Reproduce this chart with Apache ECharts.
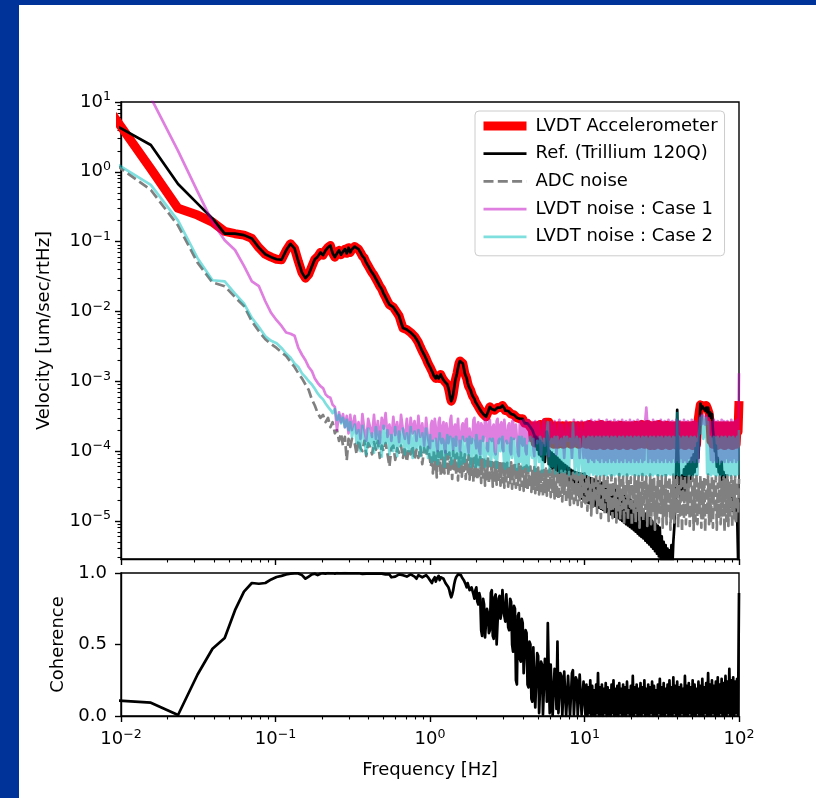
<!DOCTYPE html>
<html><head><meta charset="utf-8">
<script src="https://cdn.jsdelivr.net/npm/echarts@6/dist/echarts.min.js"></script>
<style>html,body{margin:0;padding:0;background:#fff}#c{width:816px;height:798px}</style>
</head><body><div id="c"></div>
<script>
// ---------- DATA ----------
const freq = [
  0.0078, 0.0156, 0.0234, 0.0313, 0.0391, 0.0469, 0.0547, 0.0625, 0.0703, 0.0781,
  0.0859, 0.0938, 0.1016, 0.1094, 0.1172, 0.125, 0.1328, 0.1406, 0.1484, 0.1563,
  0.1641, 0.1719, 0.1797, 0.1875, 0.1953, 0.2031, 0.2109, 0.2188, 0.2266, 0.2344,
  0.2422, 0.25, 0.2578, 0.2656, 0.2734, 0.2813, 0.2891, 0.2969, 0.3047, 0.3125,
  0.3255, 0.335, 0.3447, 0.3548, 0.3652, 0.3758, 0.3868, 0.3981, 0.4097, 0.4217,
  0.434, 0.4467, 0.4597, 0.4732, 0.487, 0.5012, 0.5158, 0.5309, 0.5464, 0.5623,
  0.5788, 0.5957, 0.6131, 0.631, 0.6494, 0.6683, 0.6879, 0.7079, 0.7286, 0.7499,
  0.7718, 0.7943, 0.8175, 0.8414, 0.866, 0.8913, 0.9173, 0.9441, 0.9716,
  1.0, 1.0145, 1.029, 1.044, 1.059, 1.074, 1.09, 1.106, 1.122, 1.138,
  1.155, 1.172, 1.189, 1.206, 1.223, 1.241, 1.259, 1.277, 1.296, 1.315,
  1.334, 1.353, 1.372, 1.392, 1.413, 1.433, 1.454, 1.475, 1.496, 1.518,
  1.54, 1.562, 1.585, 1.608, 1.631, 1.655, 1.679, 1.703, 1.728, 1.753,
  1.778, 1.804, 1.83, 1.857, 1.884, 1.911, 1.939, 1.967, 1.995, 2.024,
  2.054, 2.084, 2.113, 2.144, 2.175, 2.207, 2.239, 2.271, 2.304, 2.337,
  2.371, 2.405, 2.441, 2.476, 2.512, 2.548, 2.585, 2.622, 2.661, 2.7,
  2.738, 2.778, 2.818, 2.859, 2.901, 2.943, 2.985, 3.028, 3.073, 3.118,
  3.162, 3.208, 3.255, 3.302, 3.35, 3.399, 3.447, 3.497, 3.548, 3.599,
  3.652, 3.705, 3.758, 3.812, 3.868, 3.924, 3.981, 4.039, 4.097, 4.156,
  4.217, 4.278, 4.34, 4.403, 4.467, 4.532, 4.597, 4.664, 4.732, 4.801,
  4.87, 4.941, 5.012, 5.085, 5.158, 5.233, 5.309, 5.386, 5.464, 5.543,
  5.623, 5.705, 5.788, 5.872, 5.957, 6.043, 6.131, 6.22, 6.31, 6.401,
  6.494, 6.588, 6.683, 6.78, 6.879, 6.979, 7.079, 7.182, 7.286, 7.392,
  7.499, 7.608, 7.718, 7.83, 7.943, 8.058, 8.175, 8.294, 8.414, 8.536,
  8.66, 8.786, 8.913, 9.042, 9.173, 9.306, 9.441, 9.578, 9.716, 9.857,
  10, 10.14, 10.29, 10.44, 10.59, 10.74, 10.9, 11.06, 11.22, 11.38,
  11.55, 11.72, 11.89, 12.06, 12.23, 12.41, 12.59, 12.77, 12.96, 13.15,
  13.34, 13.53, 13.72, 13.92, 14.13, 14.33, 14.54, 14.75, 14.96, 15.18,
  15.4, 15.62, 15.85, 16.08, 16.31, 16.55, 16.79, 17.03, 17.28, 17.53,
  17.78, 18.04, 18.3, 18.57, 18.84, 19.11, 19.39, 19.67, 19.95, 20.24,
  20.54, 20.84, 21.13, 21.44, 21.75, 22.07, 22.39, 22.71, 23.04, 23.37,
  23.71, 24.05, 24.41, 24.76, 25.12, 25.48, 25.85, 26.22, 26.61, 27.0,
  27.38, 27.78, 28.18, 28.59, 29.01, 29.43, 29.85, 30.28, 30.73, 31.18,
  31.62, 32.08, 32.55, 33.02, 33.5, 33.99, 34.47, 34.97, 35.48, 35.99,
  36.52, 37.05, 37.58, 38.12, 38.68, 39.24, 39.81, 40.39, 40.97, 41.56,
  42.17, 42.78, 43.4, 44.03, 44.67, 45.32, 45.97, 46.64, 47.32, 48.01,
  48.7, 49.41, 50.12, 50.85, 51.58, 52.33, 53.09, 53.86, 54.64, 55.43,
  56.23, 57.05, 57.88, 58.72, 59.57, 60.43, 61.31, 62.2, 63.1, 64.01,
  64.94, 65.88, 66.83, 67.8, 68.79, 69.79, 70.79, 71.82, 72.86, 73.92,
  74.99, 76.08, 77.18, 78.3, 79.43, 80.58, 81.75, 82.94, 84.14, 85.36,
  86.6, 87.86, 89.13, 90.42, 91.73, 93.06, 94.41, 95.78, 97.16, 98.57,
  100
];

const lvdtAccelerometer = [
  9.7, 1.1, 0.30, 0.24, 0.19, 0.14, 0.13, 0.124, 0.111, 0.082,
  0.066, 0.060, 0.056, 0.055, 0.075, 0.093, 0.080, 0.052, 0.036, 0.030,
  0.034, 0.044, 0.056, 0.061, 0.070, 0.064, 0.075, 0.083, 0.088, 0.068,
  0.060, 0.068, 0.075, 0.065, 0.072, 0.078, 0.068, 0.082, 0.070, 0.078,
  0.085, 0.090, 0.078, 0.070, 0.062, 0.058, 0.050, 0.045, 0.040, 0.036,
  0.033, 0.031, 0.026, 0.023, 0.021, 0.018, 0.016, 0.014, 0.0125, 0.012,
  0.0115, 0.011, 0.0095, 0.0086, 0.0070, 0.0058, 0.0056, 0.0055, 0.0052, 0.0050,
  0.0047, 0.0044, 0.0040, 0.0036, 0.0031, 0.0027, 0.0024, 0.0021, 0.0018,
  1.6e-3, 1.5e-3, 1.4e-3, 1.3e-3, 1.2e-3, 1.15e-3, 1.1e-3, 1.2e-3, 1.2e-3, 1.1e-3,
  1.15e-3, 1.25e-3, 1.2e-3, 1.1e-3, 1.05e-3, 1.0e-3, 9.5e-4, 9.8e-4, 9.0e-4, 8.0e-4,
  7.0e-4, 5.8e-4, 5.2e-4, 5.6e-4, 6.5e-4, 8.0e-4, 1.0e-3, 1.15e-3, 1.3e-3, 1.55e-3,
  1.8e-3, 1.95e-3, 2.0e-3, 1.95e-3, 1.8e-3, 1.55e-3, 1.3e-3, 1.2e-3, 1.1e-3, 9.5e-4,
  8.5e-4, 8.0e-4, 7.5e-4, 6.8e-4, 6.2e-4, 5.9e-4, 5.6e-4, 5.1e-4, 4.8e-4, 4.6e-4,
  4.4e-4, 4.1e-4, 3.9e-4, 3.7e-4, 3.6e-4, 3.4e-4, 3.3e-4, 3.2e-4, 3.1e-4, 3.3e-4,
  3.6e-4, 4.0e-4, 4.3e-4, 4.1e-4, 4.0e-4, 3.9e-4, 3.8e-4, 3.85e-4, 3.9e-4, 4.0e-4,
  4.2e-4, 4.1e-4, 4.0e-4, 4.2e-4, 4.4e-4, 4.5e-4, 4.5e-4, 4.1e-4, 3.8e-4, 3.7e-4,
  3.6e-4, 3.75e-4, 3.9e-4, 3.6e-4, 3.4e-4, 3.3e-4, 3.2e-4, 3.3e-4, 3.4e-4, 3.2e-4,
  3.0e-4, 3.05e-4, 3.1e-4, 2.9e-4, 2.8e-4, 2.85e-4, 2.9e-4, 2.7e-4, 2.5e-4, 2.45e-4,
  2.4e-4, 2.5e-4, 2.6e-4, 2.4e-4, 2.2e-4, 2.1e-4, 2.0e-4, 1.5e-4, 2.3e-4, 1.3e-4,
  2.3e-4, 1.3e-4, 2.2e-4, 1.35e-4, 2.4e-4, 1.25e-4, 2.2e-4, 1.3e-4, 2.4e-4, 1.35e-4,
  2.6e-4, 2.7e-4, 2.7e-4, 2.6e-4, 1.4e-4, 2.3e-4, 1.3e-4, 2.2e-4, 1.25e-4, 2.3e-4,
  1.3e-4, 2.2e-4, 1.25e-4, 2.3e-4, 1.3e-4, 2.2e-4, 1.35e-4, 2.3e-4, 1.25e-4, 2.2e-4,
  1.3e-4, 2.3e-4, 1.35e-4, 2.2e-4, 1.3e-4, 2.3e-4, 1.25e-4, 2.2e-4, 1.3e-4, 2.3e-4,
  1.35e-4, 2.2e-4, 1.3e-4, 2.3e-4, 1.25e-4, 2.2e-4, 1.3e-4, 2.3e-4, 1.35e-4, 2.2e-4,
  1.3e-4, 2.3e-4, 1.25e-4, 2.2e-4, 1.35e-4, 2.4e-4, 1.3e-4, 2.2e-4, 1.2e-4, 2.3e-4,
  1.3e-4, 2.25e-4, 1.2e-4, 2.35e-4, 1.3e-4, 2.2e-4, 1.25e-4, 2.4e-4, 1.3e-4, 2.2e-4,
  1.2e-4, 2.3e-4, 1.3e-4, 2.2e-4, 1.25e-4, 2.35e-4, 1.3e-4, 2.2e-4, 1.2e-4, 2.3e-4,
  1.3e-4, 2.25e-4, 1.25e-4, 2.3e-4, 1.3e-4, 2.2e-4, 1.2e-4, 2.35e-4, 1.3e-4, 2.2e-4,
  1.25e-4, 2.3e-4, 1.3e-4, 2.2e-4, 1.2e-4, 2.3e-4, 1.3e-4, 2.25e-4, 1.25e-4, 2.3e-4,
  1.3e-4, 2.2e-4, 1.2e-4, 2.35e-4, 1.3e-4, 2.2e-4, 1.25e-4, 2.3e-4, 1.3e-4, 2.4e-4,
  1.3e-4, 2.3e-4, 1.25e-4, 2.2e-4, 1.35e-4, 2.4e-4, 1.3e-4, 2.2e-4, 1.2e-4, 2.3e-4,
  1.3e-4, 2.25e-4, 1.2e-4, 2.35e-4, 1.3e-4, 2.2e-4, 1.25e-4, 2.4e-4, 1.3e-4, 2.2e-4,
  1.2e-4, 2.3e-4, 1.3e-4, 2.2e-4, 1.25e-4, 2.35e-4, 1.3e-4, 2.2e-4, 1.2e-4, 2.3e-4,
  1.3e-4, 2.25e-4, 1.25e-4, 2.3e-4, 1.3e-4, 2.2e-4, 1.2e-4, 2.35e-4, 1.3e-4, 2.2e-4,
  1.25e-4, 2.3e-4, 1.3e-4, 2.2e-4, 1.2e-4, 2.3e-4, 1.3e-4, 2.25e-4, 1.25e-4, 2.3e-4,
  1.3e-4, 2.2e-4, 1.2e-4, 2.35e-4, 1.3e-4, 2.2e-4, 1.25e-4, 2.3e-4, 3.0e-4, 3.8e-4,
  4.6e-4, 4.2e-4, 4.5e-4, 4.3e-4, 4.6e-4, 4.2e-4, 4.5e-4, 4.2e-4, 4.0e-4, 3.5e-4,
  2.6e-4, 1.4e-4, 2.3e-4, 1.25e-4, 2.2e-4, 1.3e-4, 2.3e-4, 1.2e-4, 2.25e-4, 1.3e-4,
  2.3e-4, 1.25e-4, 2.2e-4, 1.3e-4, 2.3e-4, 1.2e-4, 2.25e-4, 1.3e-4, 2.3e-4, 1.25e-4,
  2.2e-4, 1.3e-4, 2.3e-4, 1.2e-4, 2.25e-4, 1.3e-4, 2.3e-4, 1.25e-4, 2.2e-4, 1.9e-4,
  5.2e-4
];

const refTrillium = [
  5.7, 2.42, 0.67, 0.35, 0.215, 0.13, 0.13, 0.124, 0.111, 0.082,
  0.066, 0.060, 0.056, 0.055, 0.075, 0.093, 0.080, 0.052, 0.036, 0.030,
  0.034, 0.044, 0.056, 0.061, 0.070, 0.064, 0.075, 0.083, 0.088, 0.068,
  0.060, 0.068, 0.075, 0.065, 0.072, 0.078, 0.068, 0.082, 0.070, 0.078,
  0.085, 0.090, 0.078, 0.070, 0.062, 0.058, 0.050, 0.045, 0.040, 0.036,
  0.033, 0.031, 0.026, 0.023, 0.021, 0.018, 0.016, 0.014, 0.0125, 0.012,
  0.0115, 0.011, 0.0095, 0.0086, 0.0070, 0.0058, 0.0056, 0.0055, 0.0052, 0.0050,
  0.0047, 0.0044, 0.0040, 0.0036, 0.0031, 0.0027, 0.0024, 0.0021, 0.0018,
  1.6e-3, 1.5e-3, 1.4e-3, 1.3e-3, 1.2e-3, 1.15e-3, 1.1e-3, 1.2e-3, 1.2e-3, 1.1e-3,
  1.15e-3, 1.25e-3, 1.2e-3, 1.1e-3, 1.05e-3, 1.0e-3, 9.5e-4, 9.8e-4, 9.0e-4, 8.0e-4,
  7.0e-4, 5.8e-4, 5.2e-4, 5.6e-4, 6.5e-4, 8.0e-4, 1.0e-3, 1.15e-3, 1.3e-3, 1.55e-3,
  1.8e-3, 1.95e-3, 2.0e-3, 1.95e-3, 1.8e-3, 1.55e-3, 1.3e-3, 1.2e-3, 1.1e-3, 9.5e-4,
  8.5e-4, 8.0e-4, 7.5e-4, 6.8e-4, 6.2e-4, 5.9e-4, 5.6e-4, 5.1e-4, 4.8e-4, 4.6e-4,
  4.4e-4, 4.1e-4, 3.9e-4, 3.7e-4, 3.6e-4, 3.4e-4, 3.3e-4, 3.2e-4, 3.1e-4, 3.3e-4,
  3.6e-4, 4.0e-4, 4.3e-4, 4.1e-4, 4.0e-4, 3.9e-4, 3.8e-4, 3.85e-4, 3.9e-4, 4.0e-4,
  4.2e-4, 4.1e-4, 4.0e-4, 4.2e-4, 4.4e-4, 4.5e-4, 4.5e-4, 4.1e-4, 3.8e-4, 3.7e-4,
  3.6e-4, 3.75e-4, 3.9e-4, 3.6e-4, 3.4e-4, 3.3e-4, 3.2e-4, 3.3e-4, 3.4e-4, 3.2e-4,
  3.0e-4, 3.05e-4, 3.1e-4, 2.9e-4, 2.8e-4, 2.85e-4, 2.9e-4, 2.7e-4, 2.5e-4, 2.45e-4,
  2.4e-4, 2.5e-4, 2.6e-4, 2.4e-4, 2.2e-4, 2.1e-4, 2.0e-4, 1.9e-4, 1.7e-4, 1.2e-4,
  1.6e-4, 1.05e-4, 1.5e-4, 9e-5, 1.4e-4, 8.5e-5, 1.3e-4, 7.5e-5, 1.2e-4, 7e-5,
  1.1e-4, 1.9e-4, 1.6e-4, 6.5e-5, 1.0e-4, 6e-5, 9.5e-5, 5.5e-5, 9e-5, 5.2e-5,
  8.5e-5, 4.8e-5, 8e-5, 4.5e-5, 7.5e-5, 4.2e-5, 7e-5, 4e-5, 6.6e-5, 3.8e-5,
  6.3e-5, 3.6e-5, 6e-5, 3.4e-5, 5.7e-5, 3.2e-5, 5.4e-5, 3.0e-5, 5.2e-5, 2.8e-5,
  5e-5, 2.6e-5, 4.9e-5, 2.4e-5, 4.8e-5, 2.2e-5, 4.7e-5, 2.1e-5, 4.7e-5, 2.0e-5,
  4.6e-5, 1.9e-5, 4.4e-5, 1.85e-5, 4.2e-5, 1.8e-5, 4.1e-5, 1.75e-5, 4.0e-5, 1.7e-5,
  3.9e-5, 1.65e-5, 3.8e-5, 1.6e-5, 3.7e-5, 1.55e-5, 3.6e-5, 1.5e-5, 3.5e-5, 1.45e-5,
  3.4e-5, 1.4e-5, 3.3e-5, 1.35e-5, 3.2e-5, 1.3e-5, 3.1e-5, 1.25e-5, 3.0e-5, 1.2e-5,
  2.9e-5, 1.15e-5, 2.8e-5, 1.15e-5, 2.7e-5, 1.1e-5, 2.6e-5, 1.05e-5, 2.5e-5, 1.0e-5,
  2.4e-5, 9.5e-6, 2.3e-5, 9e-6, 2.2e-5, 8.6e-6, 2.1e-5, 8.2e-6, 2.0e-5, 7.8e-6,
  1.9e-5, 7.4e-6, 1.8e-5, 7e-6, 1.7e-5, 6.6e-6, 1.6e-5, 6.2e-6, 1.5e-5, 5.9e-6,
  1.4e-5, 5.6e-6, 1.3e-5, 5.2e-6, 1.25e-5, 4.9e-6, 1.15e-5, 4.6e-6, 1.1e-5, 4.3e-6,
  1.0e-5, 4.0e-6, 9.5e-6, 3.7e-6, 9e-6, 3.4e-6, 8.5e-6, 3.1e-6, 8e-6, 2.8e-6,
  6e-6, 2.6e-6, 5e-6, 2.3e-6, 4.5e-6, 2.1e-6, 4.0e-6, 2.0e-6, 3.8e-6, 2.0e-6,
  4.5e-6, 2.2e-6, 5.0e-6, 8e-6, 1.5e-5, 6.0e-5, 3.9e-4, 1.0e-4, 3.8e-5, 2.5e-5,
  2.0e-5, 4.5e-5, 2.5e-5, 5.5e-5, 2.5e-5, 6.0e-5, 3.0e-5, 6.5e-5, 3.5e-5, 7.0e-5,
  4.0e-5, 8.0e-5, 4.5e-5, 9.0e-5, 5.0e-5, 1.1e-4, 6.0e-5, 1.3e-4, 8.0e-5, 2.0e-4,
  4.8e-4, 4.0e-4, 4.4e-4, 4.2e-4, 4.6e-4, 3.8e-4, 4.2e-4, 3.6e-4, 4.2e-4, 3.2e-4,
  3.6e-4, 3.0e-4, 3.4e-4, 2.0e-4, 1.5e-4, 1.0e-4, 1.2e-4, 6.0e-5, 8.0e-5, 5.0e-5,
  6.0e-5, 3.5e-5, 7.0e-5, 3.6e-5, 5.0e-5, 2.8e-5, 4.5e-5, 2.4e-5, 3.8e-5, 2.0e-5,
  3.0e-5, 1.6e-5, 2.6e-5, 1.4e-5, 2.2e-5, 1.2e-5, 1.8e-5, 1.0e-5, 1.4e-5, 3.0e-6,
  1.5e-6
];

const adcNoise = [
  1.65, 0.55, 0.17, 0.05, 0.026, 0.023, 0.016, 0.012, 0.0072, 0.0052,
  0.0040, 0.0034, 0.0030, 0.0026, 0.0023, 0.0019, 0.0016, 0.0013, 0.0011, 9e-4,
  7.5e-4, 5.5e-4, 4.5e-4, 3.5e-4, 3.0e-4, 3.3e-4, 2.6e-4, 3.0e-4, 2.2e-4, 2.6e-4,
  1.8e-4, 2.0e-4, 1.4e-4, 1.8e-4, 1.2e-4, 1.6e-4, 7.4e-5, 1.5e-4, 1.15e-4, 1.5e-4,
  1.3e-4, 9e-5, 1.45e-4, 1.1e-4, 1.0e-4, 1.4e-4, 8.5e-5, 1.3e-4, 1.15e-4, 9e-5,
  1.35e-4, 1.05e-4, 1.4e-4, 8e-5, 1.2e-4, 1.0e-4, 1.3e-4, 9e-5, 6e-5, 1.1e-4,
  1.2e-4, 7.5e-5, 1.1e-4, 9.5e-5, 1.2e-4, 8e-5, 1.15e-4, 7e-5, 1.1e-4, 9e-5,
  1.2e-4, 7.5e-5, 1.05e-4, 8e-5, 1.15e-4, 6.5e-5, 1.1e-4, 8.5e-5, 1.15e-4,
  1.1e-4, 6e-5, 9e-5, 4.8e-5, 1.05e-4, 5.5e-5, 8.5e-5, 4.2e-5, 1.0e-4, 6.2e-5,
  9.5e-5, 4.5e-5, 1.1e-4, 5e-5, 8e-5, 4.8e-5, 1.0e-4, 5.8e-5, 9e-5, 4.4e-5,
  9.5e-5, 5.2e-5, 8.5e-5, 4e-5, 1.0e-4, 5.5e-5, 8.8e-5, 4.6e-5, 9.2e-5, 3.8e-5,
  8.5e-5, 5e-5, 9.5e-5, 4.3e-5, 8e-5, 5.2e-5, 9e-5, 4e-5, 8.3e-5, 4.8e-5,
  8.8e-5, 3.9e-5, 7.8e-5, 4.6e-5, 8.5e-5, 3.6e-5, 8e-5, 4.4e-5, 8.6e-5, 3.8e-5,
  7.5e-5, 4.5e-5, 8.2e-5, 3.5e-5, 7.6e-5, 4.2e-5, 8e-5, 3.2e-5, 7.2e-5, 4e-5,
  7.8e-5, 3.4e-5, 7e-5, 4.1e-5, 7.5e-5, 3.1e-5, 6.8e-5, 3.8e-5, 7.4e-5, 3.3e-5,
  6.9e-5, 3.9e-5, 7.2e-5, 3.2e-5, 6.6e-5, 3.6e-5, 7e-5, 3e-5, 6.5e-5, 3.7e-5,
  6.8e-5, 3.1e-5, 6.4e-5, 3.5e-5, 6.9e-5, 2.9e-5, 6.2e-5, 3.4e-5, 6.6e-5, 3.0e-5,
  6.1e-5, 3.3e-5, 6.5e-5, 2.8e-5, 6.0e-5, 3.2e-5, 6.3e-5, 2.7e-5, 5.9e-5, 3.1e-5,
  6.2e-5, 2.7e-5, 5.8e-5, 3.0e-5, 6.0e-5, 2.6e-5, 5.6e-5, 2.9e-5, 5.9e-5, 2.5e-5,
  5.5e-5, 2.8e-5, 5.8e-5, 2.4e-5, 5.4e-5, 2.7e-5, 5.7e-5, 2.3e-5, 5.3e-5, 2.6e-5,
  5.6e-5, 2.3e-5, 5.2e-5, 2.5e-5, 5.5e-5, 2.2e-5, 5.1e-5, 2.4e-5, 5.4e-5, 2.1e-5,
  5.0e-5, 2.3e-5, 5.3e-5, 2.0e-5, 4.9e-5, 2.3e-5, 5.2e-5, 1.9e-5, 4.8e-5, 2.2e-5,
  5.1e-5, 1.8e-5, 4.8e-5, 2.2e-5, 5.0e-5, 1.7e-5, 4.7e-5, 2.1e-5, 4.9e-5, 1.8e-5,
  4.6e-5, 2.0e-5, 4.9e-5, 1.7e-5, 4.6e-5, 2.0e-5, 4.8e-5, 1.6e-5, 4.5e-5, 1.9e-5,
  4.8e-5, 1.8e-5, 3.9e-5, 1.4e-5, 4.6e-5, 2.0e-5, 3.6e-5, 1.2e-5, 4.4e-5, 1.6e-5,
  3.4e-5, 1.9e-5, 4.7e-5, 1.3e-5, 3.8e-5, 1.7e-5, 4.3e-5, 1.1e-5, 3.5e-5, 1.5e-5,
  4.6e-5, 1.2e-5, 3.7e-5, 1.8e-5, 4.2e-5, 1.0e-5, 3.3e-5, 1.4e-5, 4.5e-5, 1.1e-5,
  3.6e-5, 1.6e-5, 4.4e-5, 9.5e-6, 3.4e-5, 1.3e-5, 4.7e-5, 1.05e-5, 3.8e-5, 1.5e-5,
  4.3e-5, 9e-6, 3.5e-5, 1.3e-5, 4.6e-5, 1.0e-5, 3.7e-5, 1.6e-5, 4.2e-5, 8.5e-6,
  3.3e-5, 1.2e-5, 4.5e-5, 9.5e-6, 3.9e-5, 1.4e-5, 4.4e-5, 8e-6, 3.5e-5, 1.2e-5,
  4.7e-5, 1.0e-5, 3.6e-5, 1.5e-5, 4.3e-5, 8.5e-6, 3.4e-5, 1.2e-5, 4.6e-5, 9e-6,
  3.8e-5, 1.4e-5, 4.2e-5, 7.5e-6, 3.3e-5, 1.1e-5, 4.5e-5, 9.5e-6, 3.7e-5, 1.3e-5,
  4.4e-5, 8e-6, 3.5e-5, 1.2e-5, 4.7e-5, 9e-6, 3.6e-5, 1.4e-5, 4.3e-5, 7.5e-6,
  3.4e-5, 1.1e-5, 4.6e-5, 9.5e-6, 3.8e-5, 1.3e-5, 4.2e-5, 8e-6, 3.5e-5, 1.2e-5,
  4.5e-5, 7e-6, 3.7e-5, 1.1e-5, 4.4e-5, 9e-6, 3.3e-5, 1.3e-5, 4.6e-5, 8.5e-6,
  3.6e-5, 1.2e-5, 4.3e-5, 7.5e-6, 3.9e-5, 1.0e-5, 4.7e-5, 9e-6, 3.4e-5, 1.3e-5,
  4.5e-5, 8e-6, 3.6e-5, 1.1e-5, 4.2e-5, 7e-6, 3.8e-5, 1.2e-5, 4.6e-5, 9e-6,
  3.5e-5, 1.0e-5, 4.4e-5, 8e-6, 3.7e-5, 1.3e-5, 4.3e-5, 7.5e-6, 3.4e-5, 1.1e-5,
  4.6e-5, 9e-6, 3.6e-5, 1.2e-5, 4.2e-5, 7e-6, 3.9e-5, 1.0e-5, 4.5e-5, 8.5e-6,
  3.5e-5, 1.2e-5, 4.4e-5, 8e-6, 3.7e-5, 1.1e-5, 4.3e-5, 9e-6, 3.6e-5, 1.3e-5,
  4e-5
];

const lvdtNoiseCase1 = [
  250, 11.5, 2.0, 0.52, 0.19, 0.105, 0.076, 0.045, 0.027, 0.023,
  0.014, 0.0095, 0.0075, 0.0062, 0.005, 0.0048, 0.0045, 0.003, 0.0024, 0.002,
  0.0016, 0.0014, 0.0011, 9.5e-4, 8.5e-4, 8e-4, 6.5e-4, 6e-4, 5.8e-4, 4.6e-4,
  4.3e-4, 2.0e-4, 3.6e-4, 2.6e-4, 3.4e-4, 2.2e-4, 3.2e-4, 1.8e-4, 3.3e-4, 2.0e-4,
  3.2e-4, 1.8e-4, 2.6e-4, 1.5e-4, 3.4e-4, 2.0e-4, 1.4e-4, 2.9e-4, 2.2e-4, 1.6e-4,
  3.3e-4, 1.5e-4, 2.7e-4, 1.3e-4, 3.0e-4, 2.1e-4, 3.5e-4, 1.6e-4, 2.4e-4, 1.4e-4,
  3.1e-4, 1.7e-4, 2.6e-4, 1.35e-4, 3.3e-4, 2.0e-4, 1.5e-4, 2.9e-4, 1.3e-4, 3.0e-4,
  1.8e-4, 2.7e-4, 1.4e-4, 3.2e-4, 1.6e-4, 2.5e-4, 1.2e-4, 3.0e-4, 1.5e-4,
  1.1e-4, 2.4e-4, 2.7e-4, 1.4e-4, 1.6e-4, 2.9e-4, 2.2e-4, 1.2e-4, 1.0e-4, 2.6e-4,
  3.0e-4, 1.5e-4, 1.3e-4, 2.3e-4, 2.6e-4, 1.1e-4, 9.5e-5, 2.5e-4, 2.0e-4, 1.3e-4,
  1.5e-4, 2.8e-4, 3.2e-4, 1.6e-4, 1.05e-4, 2.2e-4, 2.4e-4, 1.2e-4, 1.8e-4, 2.9e-4,
  2.8e-4, 1.0e-4, 1.0e-4, 2.3e-4, 2.5e-4, 1.5e-4, 1.4e-4, 2.7e-4, 2.9e-4, 1.2e-4,
  9.5e-5, 2.1e-4, 2.2e-4, 1.3e-4, 1.6e-4, 2.8e-4, 3.0e-4, 1.4e-4, 1.1e-4, 2.4e-4,
  2.6e-4, 1.0e-4, 9e-5, 2.5e-4, 2.3e-4, 1.4e-4, 1.7e-4, 2.9e-4, 2.7e-4, 1.1e-4,
  1.0e-4, 2.5e-4, 2.8e-4, 1.5e-4, 1.4e-4, 2.2e-4, 2.4e-4, 1.0e-4, 9e-5, 2.7e-4,
  2.9e-4, 1.3e-4, 1.5e-4, 2.4e-4, 2.6e-4, 1.1e-4, 1.0e-4, 2.8e-4, 2.7e-4, 1.4e-4,
  1.3e-4, 2.3e-4, 2.5e-4, 1.0e-4, 9e-5, 2.6e-4, 2.8e-4, 1.5e-4, 1.6e-4, 2.4e-4,
  2.3e-4, 9.5e-5, 8.5e-5, 2.5e-4, 2.7e-4, 1.3e-4, 1.2e-4, 2.8e-4, 2.5e-4, 1.0e-4,
  9e-5, 2.6e-4, 2.8e-4, 1.4e-4, 1.4e-4, 2.3e-4, 2.6e-4, 1.1e-4, 8.5e-5, 2.7e-4,
  2.4e-4, 1.3e-4, 1.5e-4, 2.6e-4, 2.7e-4, 9e-5, 9e-5, 2.5e-4, 2.8e-4, 1.2e-4,
  1.2e-4, 2.4e-4, 2.6e-4, 8.5e-5, 8e-5, 2.6e-4, 2.3e-4, 1.3e-4, 1.4e-4, 2.7e-4,
  2.7e-4, 9e-5, 8.5e-5, 2.5e-4, 2.8e-4, 1.2e-4, 1.3e-4, 2.4e-4, 2.5e-4, 8e-5,
  8e-5, 2.7e-4, 2.7e-4, 1.4e-4, 1.5e-4, 2.5e-4, 2.5e-4, 8e-5, 7.5e-5, 2.8e-4,
  2.8e-4, 1.2e-4, 1.2e-4, 2.6e-4, 2.6e-4, 8e-5, 7.5e-5, 2.7e-4, 2.7e-4, 8e-5,
  7.5e-5, 2.6e-4, 8e-5, 2.7e-4, 7e-5, 2.5e-4, 8e-5, 2.8e-4, 7.5e-5, 2.6e-4,
  7e-5, 2.7e-4, 8e-5, 2.5e-4, 7.5e-5, 2.8e-4, 7e-5, 2.6e-4, 8e-5, 2.7e-4,
  7e-5, 2.5e-4, 7.5e-5, 2.8e-4, 7e-5, 2.6e-4, 8e-5, 2.7e-4, 7e-5, 2.5e-4,
  7.5e-5, 2.8e-4, 7e-5, 2.6e-4, 8e-5, 2.7e-4, 7e-5, 2.5e-4, 7.5e-5, 2.8e-4,
  7e-5, 2.6e-4, 8e-5, 2.7e-4, 7e-5, 2.5e-4, 7.5e-5, 2.8e-4, 7e-5, 2.6e-4,
  8e-5, 2.7e-4, 7e-5, 2.5e-4, 7.5e-5, 2.8e-4, 7e-5, 2.6e-4, 8e-5, 2.7e-4,
  7e-5, 2.5e-4, 7.5e-5, 2.8e-4, 4.2e-4, 2.6e-4, 7e-5, 2.7e-4, 8e-5, 2.5e-4,
  7e-5, 2.8e-4, 7.5e-5, 2.6e-4, 7e-5, 2.7e-4, 8e-5, 2.5e-4, 7e-5, 2.8e-4,
  7.5e-5, 2.6e-4, 7e-5, 2.7e-4, 8e-5, 2.5e-4, 7e-5, 2.8e-4, 7.5e-5, 2.6e-4,
  7e-5, 2.7e-4, 8e-5, 2.5e-4, 7e-5, 2.8e-4, 7.5e-5, 2.6e-4, 7e-5, 2.7e-4,
  8e-5, 2.5e-4, 7e-5, 2.8e-4, 7.5e-5, 2.6e-4, 7e-5, 2.7e-4, 8e-5, 2.5e-4,
  7e-5, 2.8e-4, 7.5e-5, 2.6e-4, 7e-5, 2.7e-4, 8e-5, 2.5e-4, 7e-5, 2.9e-4,
  3.2e-4, 2.4e-4, 3.3e-4, 2.5e-4, 3.1e-4, 2.4e-4, 3.2e-4, 2.5e-4, 3.0e-4, 2.6e-4,
  2.7e-4, 7.5e-5, 2.6e-4, 7e-5, 2.8e-4, 7.5e-5, 2.6e-4, 7e-5, 2.7e-4, 8e-5,
  2.5e-4, 7e-5, 2.8e-4, 7.5e-5, 2.7e-4, 7e-5, 2.6e-4, 8e-5, 2.7e-4, 7e-5,
  2.5e-4, 7.5e-5, 2.8e-4, 7e-5, 2.6e-4, 8e-5, 2.7e-4, 7e-5, 2.8e-4, 7.5e-5,
  1.3e-3
];

const lvdtNoiseCase2 = [
  1.66, 0.65, 0.20, 0.058, 0.028, 0.027, 0.018, 0.013, 0.0081, 0.006,
  0.0044, 0.0038, 0.0035, 0.003, 0.0025, 0.0022, 0.0018, 0.0016, 0.0013, 0.00115,
  0.001, 9e-4, 7.8e-4, 6.7e-4, 6e-4, 5.5e-4, 4.8e-4, 4.3e-4, 3.9e-4, 3.5e-4,
  4.0e-4, 2.8e-4, 3.3e-4, 2.5e-4, 3.0e-4, 2.2e-4, 2.8e-4, 2.0e-4, 2.6e-4, 1.6e-4,
  2.4e-4, 1.3e-4, 2.0e-4, 1.0e-4, 2.3e-4, 1.5e-4, 9e-5, 2.1e-4, 1.2e-4, 1.8e-4,
  9.5e-5, 2.2e-4, 1.1e-4, 1.9e-4, 8.3e-5, 2.3e-4, 1.3e-4, 2.0e-4, 9e-5, 1.7e-4,
  1.0e-4, 2.2e-4, 8.5e-5, 1.9e-4, 1.2e-4, 2.1e-4, 9e-5, 1.8e-4, 1.0e-4, 2.2e-4,
  8e-5, 1.9e-4, 1.1e-4, 2.0e-4, 8.5e-5, 1.8e-4, 9.5e-5, 2.1e-4, 8e-5,
  1.7e-4, 9e-5, 7e-5, 1.4e-4, 1.2e-4, 7.5e-5, 1.5e-4, 1.6e-4, 6.5e-5, 1.1e-4,
  1.8e-4, 8e-5, 9e-5, 1.5e-4, 1.4e-4, 6e-5, 6e-5, 1.3e-4, 1.7e-4, 9e-5,
  1.1e-4, 1.6e-4, 6.5e-5, 7e-5, 1.5e-4, 1.2e-4, 8e-5, 1.6e-4, 1.7e-4, 7e-5,
  6e-5, 1.4e-4, 1.3e-4, 6.5e-5, 1.6e-4, 1.5e-4, 7e-5, 9e-5, 1.5e-4, 1.2e-4,
  9e-5, 1.6e-4, 6e-5, 7e-5, 1.5e-4, 1.4e-4, 1.0e-4, 6e-5, 1.7e-4, 1.3e-4,
  6e-5, 1.1e-4, 1.4e-4, 8e-5, 8e-5, 1.6e-4, 1.6e-4, 6e-5, 5.8e-5, 1.3e-4,
  1.2e-4, 9e-5, 1.5e-4, 6.2e-5, 6.2e-5, 1.5e-4, 1.6e-4, 8e-5, 9e-5, 5.8e-5,
  5.8e-5, 1.4e-4, 1.5e-4, 1.0e-4, 1.1e-4, 1.6e-4, 1.6e-4, 6e-5, 5.6e-5, 1.4e-4,
  1.3e-4, 6e-5, 6e-5, 1.2e-4, 1.55e-4, 8e-5, 8.5e-5, 1.5e-4, 1.5e-4, 6e-5,
  5.4e-5, 1.3e-4, 1.6e-4, 7e-5, 1.0e-4, 1.6e-4, 5.6e-5, 1.1e-4, 1.5e-4, 6e-5,
  1.2e-4, 8e-5, 5.2e-5, 1.4e-4, 1.6e-4, 9e-5, 8e-5, 1.5e-4, 1.5e-4, 5.2e-5,
  5.4e-5, 1.4e-4, 1.3e-4, 7e-5, 1.6e-4, 1.4e-4, 5e-5, 6e-5, 1.5e-4, 1.2e-4,
  9e-5, 1.8e-4, 2.6e-4, 8e-5, 5e-5, 1.3e-4, 1.5e-4, 6e-5, 1.1e-4, 1.6e-4,
  4.8e-5, 1.2e-4, 1.6e-4, 7e-5, 5e-5, 1.4e-4, 1.5e-4, 5e-5, 8e-5, 1.6e-4,
  5e-5, 1.3e-4, 1.6e-4, 6e-5, 4.6e-5, 1.5e-4, 1.5e-4, 8e-5, 2.5e-4, 1.2e-4,
  4.8e-5, 1.4e-4, 1.6e-4, 6e-5, 4.6e-5, 1.5e-4, 1.5e-4, 7e-5, 4.8e-5, 1.6e-4,
  1.6e-4, 4.6e-5, 1.5e-4, 4.8e-5, 1.6e-4, 4.5e-5, 1.55e-4, 5e-5, 1.6e-4, 4.6e-5,
  1.5e-4, 4.8e-5, 1.6e-4, 4.5e-5, 1.55e-4, 4.7e-5, 1.6e-4, 4.5e-5, 1.5e-4, 4.8e-5,
  1.6e-4, 4.6e-5, 1.55e-4, 4.5e-5, 1.6e-4, 4.8e-5, 1.5e-4, 4.5e-5, 1.6e-4, 4.7e-5,
  1.55e-4, 4.5e-5, 1.6e-4, 4.8e-5, 1.5e-4, 4.6e-5, 1.6e-4, 4.5e-5, 1.55e-4, 4.8e-5,
  1.6e-4, 4.5e-5, 1.5e-4, 4.7e-5, 1.6e-4, 4.5e-5, 1.55e-4, 4.8e-5, 1.6e-4, 4.6e-5,
  1.5e-4, 4.8e-5, 1.6e-4, 4.5e-5, 1.55e-4, 4.7e-5, 1.6e-4, 4.5e-5, 1.5e-4, 4.8e-5,
  1.6e-4, 4.6e-5, 1.55e-4, 4.5e-5, 1.6e-4, 4.8e-5, 1.5e-4, 4.5e-5, 1.6e-4, 4.7e-5,
  1.55e-4, 4.5e-5, 1.6e-4, 4.8e-5, 1.5e-4, 4.6e-5, 1.6e-4, 4.5e-5, 1.55e-4, 4.8e-5,
  1.6e-4, 4.5e-5, 1.5e-4, 4.7e-5, 1.6e-4, 4.5e-5, 1.55e-4, 4.8e-5, 1.6e-4, 4.6e-5,
  1.5e-4, 4.8e-5, 1.6e-4, 4.5e-5, 1.55e-4, 4.7e-5, 3.5e-4, 4.6e-5, 1.6e-4, 4.5e-5,
  1.5e-4, 4.8e-5, 1.6e-4, 4.6e-5, 1.55e-4, 4.5e-5, 1.6e-4, 4.8e-5, 1.5e-4, 4.5e-5,
  1.6e-4, 4.7e-5, 1.55e-4, 4.5e-5, 1.6e-4, 4.8e-5, 1.5e-4, 4.6e-5, 1.6e-4, 2.0e-4,
  3.0e-4, 1.8e-4, 3.2e-4, 1.5e-4, 2.8e-4, 1.6e-4, 3.0e-4, 4.8e-5, 2.6e-4, 4.7e-5,
  1.6e-4, 4.5e-5, 1.5e-4, 4.8e-5, 1.6e-4, 4.6e-5, 1.55e-4, 4.5e-5, 1.6e-4, 4.8e-5,
  1.5e-4, 4.5e-5, 1.6e-4, 4.7e-5, 1.55e-4, 4.5e-5, 1.6e-4, 4.8e-5, 1.5e-4, 4.6e-5,
  1.6e-4, 4.5e-5, 1.55e-4, 4.8e-5, 1.6e-4, 4.6e-5, 1.5e-4, 4.5e-5, 1.6e-4, 4.7e-5,
  2.0e-4
];

const coherence = [
  0.115, 0.093, 0.007, 0.29, 0.47, 0.545, 0.74, 0.87, 0.93, 0.925,
  0.93, 0.955, 0.972, 0.98, 0.99, 0.995, 0.998, 0.997, 0.985, 0.96,
  0.975, 0.99, 0.995, 0.985, 0.995, 0.998, 0.996, 0.999, 0.997, 0.998,
  0.996, 0.999, 0.997, 0.998, 0.995, 0.999, 0.997, 0.998, 0.996, 0.998,
  0.997, 0.995, 0.998, 0.996, 0.994, 0.997, 0.996, 0.99, 0.995, 0.993,
  0.996, 0.992, 0.995, 0.99, 0.996, 0.993, 0.99, 0.985, 0.99, 0.97,
  0.96, 0.975, 0.985, 0.99, 0.98, 0.985, 0.99, 0.975, 0.98, 0.99,
  0.985, 0.975, 0.96, 0.985, 0.98, 0.97, 0.975, 0.985, 0.97,
  0.95, 0.96, 0.93, 0.95, 0.96, 0.97, 0.94, 0.96, 0.97, 0.98,
  0.95, 0.97, 0.97, 0.98, 0.96, 0.95, 0.93, 0.94, 0.92, 0.9,
  0.88, 0.85, 0.83, 0.85, 0.88, 0.92, 0.95, 0.97, 0.98, 0.99,
  0.99, 0.98, 0.985, 0.97, 0.96, 0.95, 0.94, 0.92, 0.9, 0.93,
  0.92, 0.88, 0.87, 0.9, 0.9, 0.85, 0.82, 0.88, 0.9, 0.8,
  0.78, 0.86, 0.83, 0.6, 0.56, 0.82, 0.78, 0.55, 0.55, 0.75,
  0.72, 0.58, 0.6, 0.86, 0.88, 0.56, 0.54, 0.83, 0.85, 0.5,
  0.5, 0.82, 0.84, 0.68, 0.72, 0.88, 0.88, 0.7, 0.66, 0.85,
  0.86, 0.62, 0.6, 0.82, 0.8, 0.5, 0.45, 0.77, 0.75, 0.25,
  0.22, 0.7, 0.72, 0.4, 0.38, 0.68, 0.65, 0.3, 0.3, 0.6,
  0.58, 0.22, 0.2, 0.52, 0.5, 0.12, 0.1, 0.48, 0.47, 0.06,
  0.05, 0.44, 0.42, 0.02, 0.02, 0.38, 0.36, 0.01, 0.01, 0.4,
  0.38, 0.1, 0.65, 0.3, 0.02, 0.36, 0.35, 0.0, 0.0, 0.33,
  0.3, 0.05, 0.52, 0.02, 0.01, 0.3, 0.28, 0.0, 0.0, 0.31,
  0.3, 0.0, 0.01, 0.28, 0.27, 0.0, 0.0, 0.3, 0.32, 0.01,
  0.01, 0.27, 0.25, 0.0, 0.0, 0.29, 0.28, 0.01, 0.01, 0.24,
  0.24, 0.01, 0.22, 0.0, 0.2, 0.02, 0.25, 0.0, 0.21, 0.01,
  0.18, 0.0, 0.22, 0.02, 0.3, 0.0, 0.2, 0.01, 0.22, 0.0,
  0.19, 0.02, 0.23, 0.0, 0.2, 0.01, 0.18, 0.0, 0.22, 0.02,
  0.25, 0.0, 0.19, 0.01, 0.21, 0.0, 0.23, 0.02, 0.19, 0.0,
  0.22, 0.01, 0.2, 0.0, 0.24, 0.02, 0.18, 0.0, 0.21, 0.01,
  0.28, 0.0, 0.2, 0.02, 0.22, 0.0, 0.19, 0.01, 0.23, 0.0,
  0.2, 0.02, 0.25, 0.0, 0.19, 0.01, 0.22, 0.0, 0.2, 0.02,
  0.24, 0.0, 0.21, 0.01, 0.18, 0.0, 0.22, 0.02, 0.26, 0.0,
  0.2, 0.01, 0.23, 0.0, 0.19, 0.02, 0.22, 0.0, 0.25, 0.01,
  0.2, 0.0, 0.27, 0.02, 0.21, 0.0, 0.24, 0.01, 0.2, 0.0,
  0.22, 0.02, 0.19, 0.0, 0.28, 0.01, 0.21, 0.0, 0.23, 0.02,
  0.2, 0.0, 0.25, 0.01, 0.22, 0.0, 0.19, 0.02, 0.24, 0.0,
  0.21, 0.01, 0.26, 0.0, 0.2, 0.02, 0.23, 0.0, 0.3, 0.01,
  0.22, 0.0, 0.25, 0.02, 0.21, 0.0, 0.24, 0.01, 0.27, 0.0,
  0.22, 0.02, 0.26, 0.0, 0.23, 0.01, 0.28, 0.0, 0.24, 0.02,
  0.33, 0.0, 0.25, 0.01, 0.27, 0.0, 0.24, 0.02, 0.26, 0.0,
  0.86
];

const seriesNames = ['LVDT Accelerometer', 'Ref. (Trillium 120Q)', 'ADC noise', 'LVDT noise : Case 1', 'LVDT noise : Case 2'];
const xMajorTicks = [0.01, 0.1, 1, 10, 100];
const yMajorTicks = [1e-5, 1e-4, 1e-3, 1e-2, 1e-1, 1, 10];
const cohTicks = [0, 0.5, 1.0];
const cohTickLabels = ['0.0', '0.5', '1.0'];
const xAxisTitle = 'Frequency [Hz]';
const yAxisTitle = 'Velocity [um/sec/rtHz]';
const cohAxisTitle = 'Coherence';

// ---------- CHECK ----------
[lvdtAccelerometer, refTrillium, adcNoise, lvdtNoiseCase1, lvdtNoiseCase2, coherence].forEach((a, i) => {
  if (a.length !== freq.length) throw new Error('length mismatch series ' + i + ': ' + a.length + ' vs ' + freq.length);
});

// ---------- BUILD ----------
const pairs = arr => freq.map((f, i) => [f, arr[i]]);
function minorTicks(lo, hi) {
  const out = [];
  for (let e = lo; e < hi; e++) for (let m = 2; m <= 9; m++) out.push(m * Math.pow(10, e));
  return out;
}
const xMinor = minorTicks(-2, 2);
const yMinor = minorTicks(-6, 1).filter(v => v >= 2.85e-6 && v <= 10);

const FONT = 'DejaVu Sans';
const powRich = {
  b: { fontSize: 18, fontFamily: FONT, color: '#000' },
  s: { fontSize: 12.6, fontFamily: FONT, color: '#000', padding: [0, 0, 10, 0] }
};
function powFmt(v) {
  const e = Math.round(Math.log10(v));
  return '{b|10}{s|' + (e < 0 ? '\u2212' + (-e) : e) + '}';
}
const AX = { color: '#000', width: 1.4 };
const YMIN = 2.85e-6, YMAX = 10;

function logX(grid, withLabels) {
  return [{
    gridIndex: grid, type: 'log', min: 0.01, max: 100, position: 'bottom',
    axisLine: { show: true, onZero: false, lineStyle: AX },
    axisTick: { show: true, customValues: xMajorTicks, length: 6, lineStyle: AX },
    axisLabel: withLabels ? { show: true, customValues: xMajorTicks, formatter: powFmt, rich: powRich, margin: 12, showMinLabel: true, showMaxLabel: true, hideOverlap: false } : { show: false },
    splitLine: { show: false }, minorTick: { show: false },
    name: withLabels ? xAxisTitle : '', nameLocation: 'middle', nameGap: 45,
    nameTextStyle: { fontSize: 18, fontFamily: FONT, color: '#000' }
  }, {
    gridIndex: grid, type: 'log', min: 0.01, max: 100, position: 'bottom',
    axisLine: { show: false, onZero: false },
    axisTick: { show: true, customValues: xMinor, length: 3.5, lineStyle: { color: '#000', width: 1.1 } },
    axisLabel: { show: false }, splitLine: { show: false }
  }];
}

const legendItem = (name, ls) => ({ name, lineStyle: Object.assign({ cap: 'butt' }, ls), itemStyle: { opacity: 0 } });

const option = {
  animation: false,
  backgroundColor: '#ffffff',
  textStyle: { fontFamily: FONT },
  graphic: [
    { type: 'rect', silent: true, z: -10, shape: { x: 0, y: 0, width: 19, height: 798 }, style: { fill: '#003399' } },
    { type: 'rect', silent: true, z: -10, shape: { x: 0, y: 0, width: 816, height: 5 }, style: { fill: '#003399' } }
  ],
  grid: [
    { left: 121, top: 102, width: 618, height: 457, show: true, borderColor: '#000', borderWidth: 1.4, backgroundColor: '#fff', containLabel: false },
    { left: 121, top: 573, width: 618, height: 143, show: true, borderColor: '#000', borderWidth: 1.4, backgroundColor: '#fff', containLabel: false }
  ],
  xAxis: [...logX(0, false), ...logX(1, true)],
  yAxis: [
    {
      gridIndex: 0, type: 'log', min: YMIN, max: YMAX, position: 'left',
      axisLine: { show: true, lineStyle: AX },
      axisTick: { show: true, customValues: yMajorTicks, length: 6, lineStyle: AX },
      axisLabel: { show: true, customValues: yMajorTicks, formatter: powFmt, rich: powRich, margin: 10, showMinLabel: true, showMaxLabel: true, hideOverlap: false },
      splitLine: { show: false },
      name: yAxisTitle, nameLocation: 'middle', nameGap: 68,
      nameTextStyle: { fontSize: 18, fontFamily: FONT, color: '#000' }
    },
    {
      gridIndex: 0, type: 'log', min: YMIN, max: YMAX, position: 'left',
      axisLine: { show: false },
      axisTick: { show: true, customValues: yMinor, length: 3.5, lineStyle: { color: '#000', width: 1.1 } },
      axisLabel: { show: false }, splitLine: { show: false }
    },
    {
      gridIndex: 1, type: 'value', min: 0, max: 1, interval: 0.5, position: 'left',
      axisLine: { show: true, onZero: false, lineStyle: AX },
      axisTick: { show: true, length: 6, lineStyle: AX },
      axisLabel: { show: true, fontSize: 18, fontFamily: FONT, color: '#000', margin: 14,
        formatter: v => cohTickLabels[cohTicks.indexOf(Math.round(v * 10) / 10)] || '' },
      splitLine: { show: false },
      name: cohAxisTitle, nameLocation: 'middle', nameGap: 52,
      nameTextStyle: { fontSize: 18, fontFamily: FONT, color: '#000' }
    }
  ],
  legend: {
    orient: 'vertical', left: 475, top: 111,
    backgroundColor: 'rgba(255,255,255,0.8)', borderColor: '#cccccc', borderWidth: 1, borderRadius: 4,
    padding: [5, 7, 9, 4], itemGap: 7.7, itemWidth: 43, itemHeight: 14, selectedMode: false,
    textStyle: { fontSize: 18, fontFamily: FONT, color: '#000', lineHeight: 20, padding: [0, 0, 0, 4] },
    data: [
      legendItem(seriesNames[0], { width: 9, color: '#ff0000' }),
      legendItem(seriesNames[1], { width: 2.7, color: '#000000' }),
      legendItem(seriesNames[2], { width: 2.7, color: '#808080', type: [10, 4.3] }),
      legendItem(seriesNames[3], { width: 2.7, color: '#bf00bf', opacity: 0.5 }),
      legendItem(seriesNames[4], { width: 2.7, color: '#00bfbf', opacity: 0.5 })
    ]
  },
  series: [
    { type: 'line', name: seriesNames[0], xAxisIndex: 0, yAxisIndex: 0, data: pairs(lvdtAccelerometer), symbol: 'none', showSymbol: false, silent: true,
      itemStyle: { color: '#ff0000' }, lineStyle: { color: '#ff0000', width: 9, join: 'round' } },
    { type: 'line', name: seriesNames[1], xAxisIndex: 0, yAxisIndex: 0, data: pairs(refTrillium), symbol: 'none', showSymbol: false, silent: true,
      itemStyle: { color: '#000000' }, lineStyle: { color: '#000000', width: 2.7, join: 'round' } },
    { type: 'line', name: seriesNames[2], xAxisIndex: 0, yAxisIndex: 0, data: pairs(adcNoise), symbol: 'none', showSymbol: false, silent: true,
      itemStyle: { color: '#808080' }, lineStyle: { color: '#808080', width: 2.7, type: [10, 4.3], join: 'round' } },
    { type: 'line', name: seriesNames[3], xAxisIndex: 0, yAxisIndex: 0, data: pairs(lvdtNoiseCase1), symbol: 'none', showSymbol: false, silent: true,
      itemStyle: { color: '#bf00bf' }, lineStyle: { color: '#bf00bf', width: 2.7, opacity: 0.5, join: 'round' } },
    { type: 'line', name: seriesNames[4], xAxisIndex: 0, yAxisIndex: 0, data: pairs(lvdtNoiseCase2), symbol: 'none', showSymbol: false, silent: true,
      itemStyle: { color: '#00bfbf' }, lineStyle: { color: '#00bfbf', width: 2.7, opacity: 0.5, join: 'round' } },
    { type: 'line', name: 'Coherence', xAxisIndex: 2, yAxisIndex: 2, data: pairs(coherence), symbol: 'none', showSymbol: false, silent: true,
      itemStyle: { color: '#000000' }, lineStyle: { color: '#000000', width: 2.7, join: 'round' } }
  ]
};

const chart = echarts.init(document.getElementById('c'), null, { renderer: 'canvas', width: 816, height: 798 });
chart.setOption(option);
</script></body></html>
